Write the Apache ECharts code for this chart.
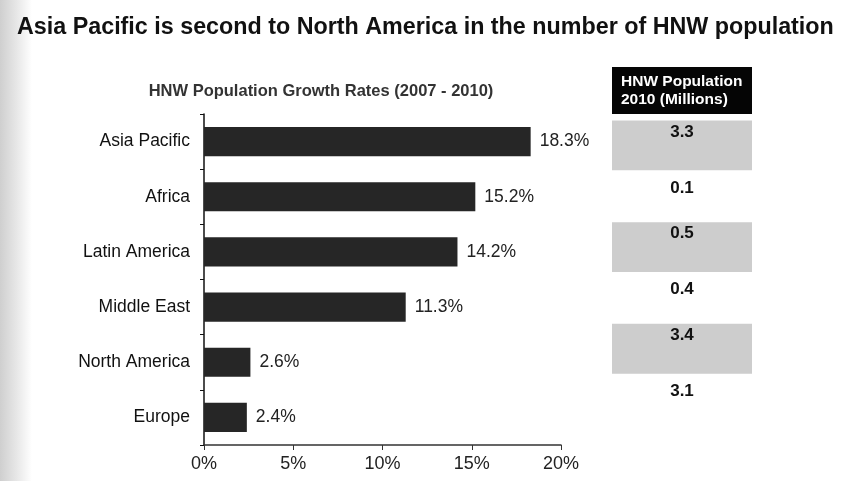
<!DOCTYPE html>
<html>
<head>
<meta charset="utf-8">
<style>
  html, body { margin: 0; padding: 0; background: #ffffff; }
  #chart { width: 845px; height: 481px; }
</style>
<script src="https://cdn.jsdelivr.net/npm/echarts@6/dist/echarts.min.js"></script>
</head>
<body>
<div id="chart"></div>
<script>
// Regions, growth rates 2007-2010 (%), and HNW population 2010 (millions)
const regions = ['Asia Pacific', 'Africa', 'Latin America', 'Middle East', 'North America', 'Europe'];
const growthRates = [18.3, 15.2, 14.2, 11.3, 2.6, 2.4];
const populationMillions = ['3.3', '0.1', '0.5', '0.4', '3.4', '3.1'];
const rateTicks = [0, 5, 10, 15, 20];

const FONT = '"Liberation Sans", Arial, sans-serif';

const chart = echarts.init(document.getElementById('chart'), null, { renderer: 'canvas' });

// Table rows alternate between shaded and plain cells
const tableRows = populationMillions.map((v, i) => ({
  value: 1,
  label: { formatter: v, distance: i % 2 === 0 ? 3 : 8 },
  itemStyle: { color: i % 2 === 0 ? '#cdcdcd' : 'rgba(0,0,0,0)' }
}));

chart.setOption({
  animation: false,
  backgroundColor: '#ffffff',
  title: [
    {
      text: 'Asia Pacific is second to North America in the number of HNW population',
      left: 12, top: 11,
      textStyle: { fontFamily: FONT, fontSize: 23.3, fontWeight: 'bold', color: '#111' }
    },
    {
      text: 'HNW Population Growth Rates (2007 - 2010)',
      left: 316, top: 78, textAlign: 'center',
      textStyle: { fontFamily: FONT, fontSize: 16.5, fontWeight: 'bold', color: '#333' }
    }
  ],
  graphic: [
    {
      type: 'rect', left: 0, top: 0, z: -10,
      shape: { width: 32, height: 481 },
      style: {
        fill: new echarts.graphic.LinearGradient(0, 0, 1, 0, [
          { offset: 0, color: '#cfcfcf' },
          { offset: 0.5, color: '#e6e6e6' },
          { offset: 1, color: '#ffffff' }
        ])
      }
    },
    {
      type: 'group', left: 612, top: 67,
      children: [
        { type: 'rect', shape: { x: 0, y: 0, width: 140, height: 47 }, style: { fill: '#050505' } },
        {
          type: 'text', x: 9, y: 6,
          style: {
            text: 'HNW Population\n2010 (Millions)',
            fill: '#ffffff', font: 'bold 15.5px ' + FONT, lineHeight: 18
          }
        }
      ]
    }
  ],
  grid: [
    { left: 204, right: 284, top: 114, bottom: 36 },
    { left: 612, width: 140, top: 120, height: 305 }
  ],
  xAxis: [
    {
      gridIndex: 0, type: 'value', min: 0, max: 20, interval: 5,
      axisLine: { show: true, lineStyle: { color: '#333', width: 1.5 } },
      axisTick: { show: true, length: 5, lineStyle: { color: '#333' } },
      splitLine: { show: false },
      axisLabel: {
        margin: 10, color: '#222', fontFamily: FONT, fontSize: 18,
        customValues: rateTicks,
        formatter: v => v + '%'
      }
    },
    { gridIndex: 1, type: 'value', min: 0, max: 1, show: false }
  ],
  yAxis: [
    {
      gridIndex: 0, type: 'category', data: regions, inverse: true,
      axisLine: { show: true, lineStyle: { color: '#111', width: 1.5 } },
      axisTick: { show: true, length: 4, lineStyle: { color: '#111' } },
      axisLabel: { margin: 14, color: '#111', fontFamily: FONT, fontSize: 17.5 }
    },
    { gridIndex: 1, type: 'category', data: regions, inverse: true, show: false }
  ],
  series: [
    {
      type: 'bar', xAxisIndex: 0, yAxisIndex: 0,
      data: growthRates,
      barCategoryGap: '47%',
      itemStyle: { color: '#262626' },
      label: {
        show: true, position: 'right', distance: 9,
        color: '#222', fontFamily: FONT, fontSize: 17.5,
        formatter: p => p.value.toFixed(1) + '%'
      }
    },
    {
      type: 'bar', xAxisIndex: 1, yAxisIndex: 1,
      data: tableRows,
      barCategoryGap: '2%',
      label: {
        show: true, position: 'insideTop',
        color: '#111', fontFamily: FONT, fontSize: 17, fontWeight: 'bold'
      }
    }
  ]
});
</script>
</body>
</html>
